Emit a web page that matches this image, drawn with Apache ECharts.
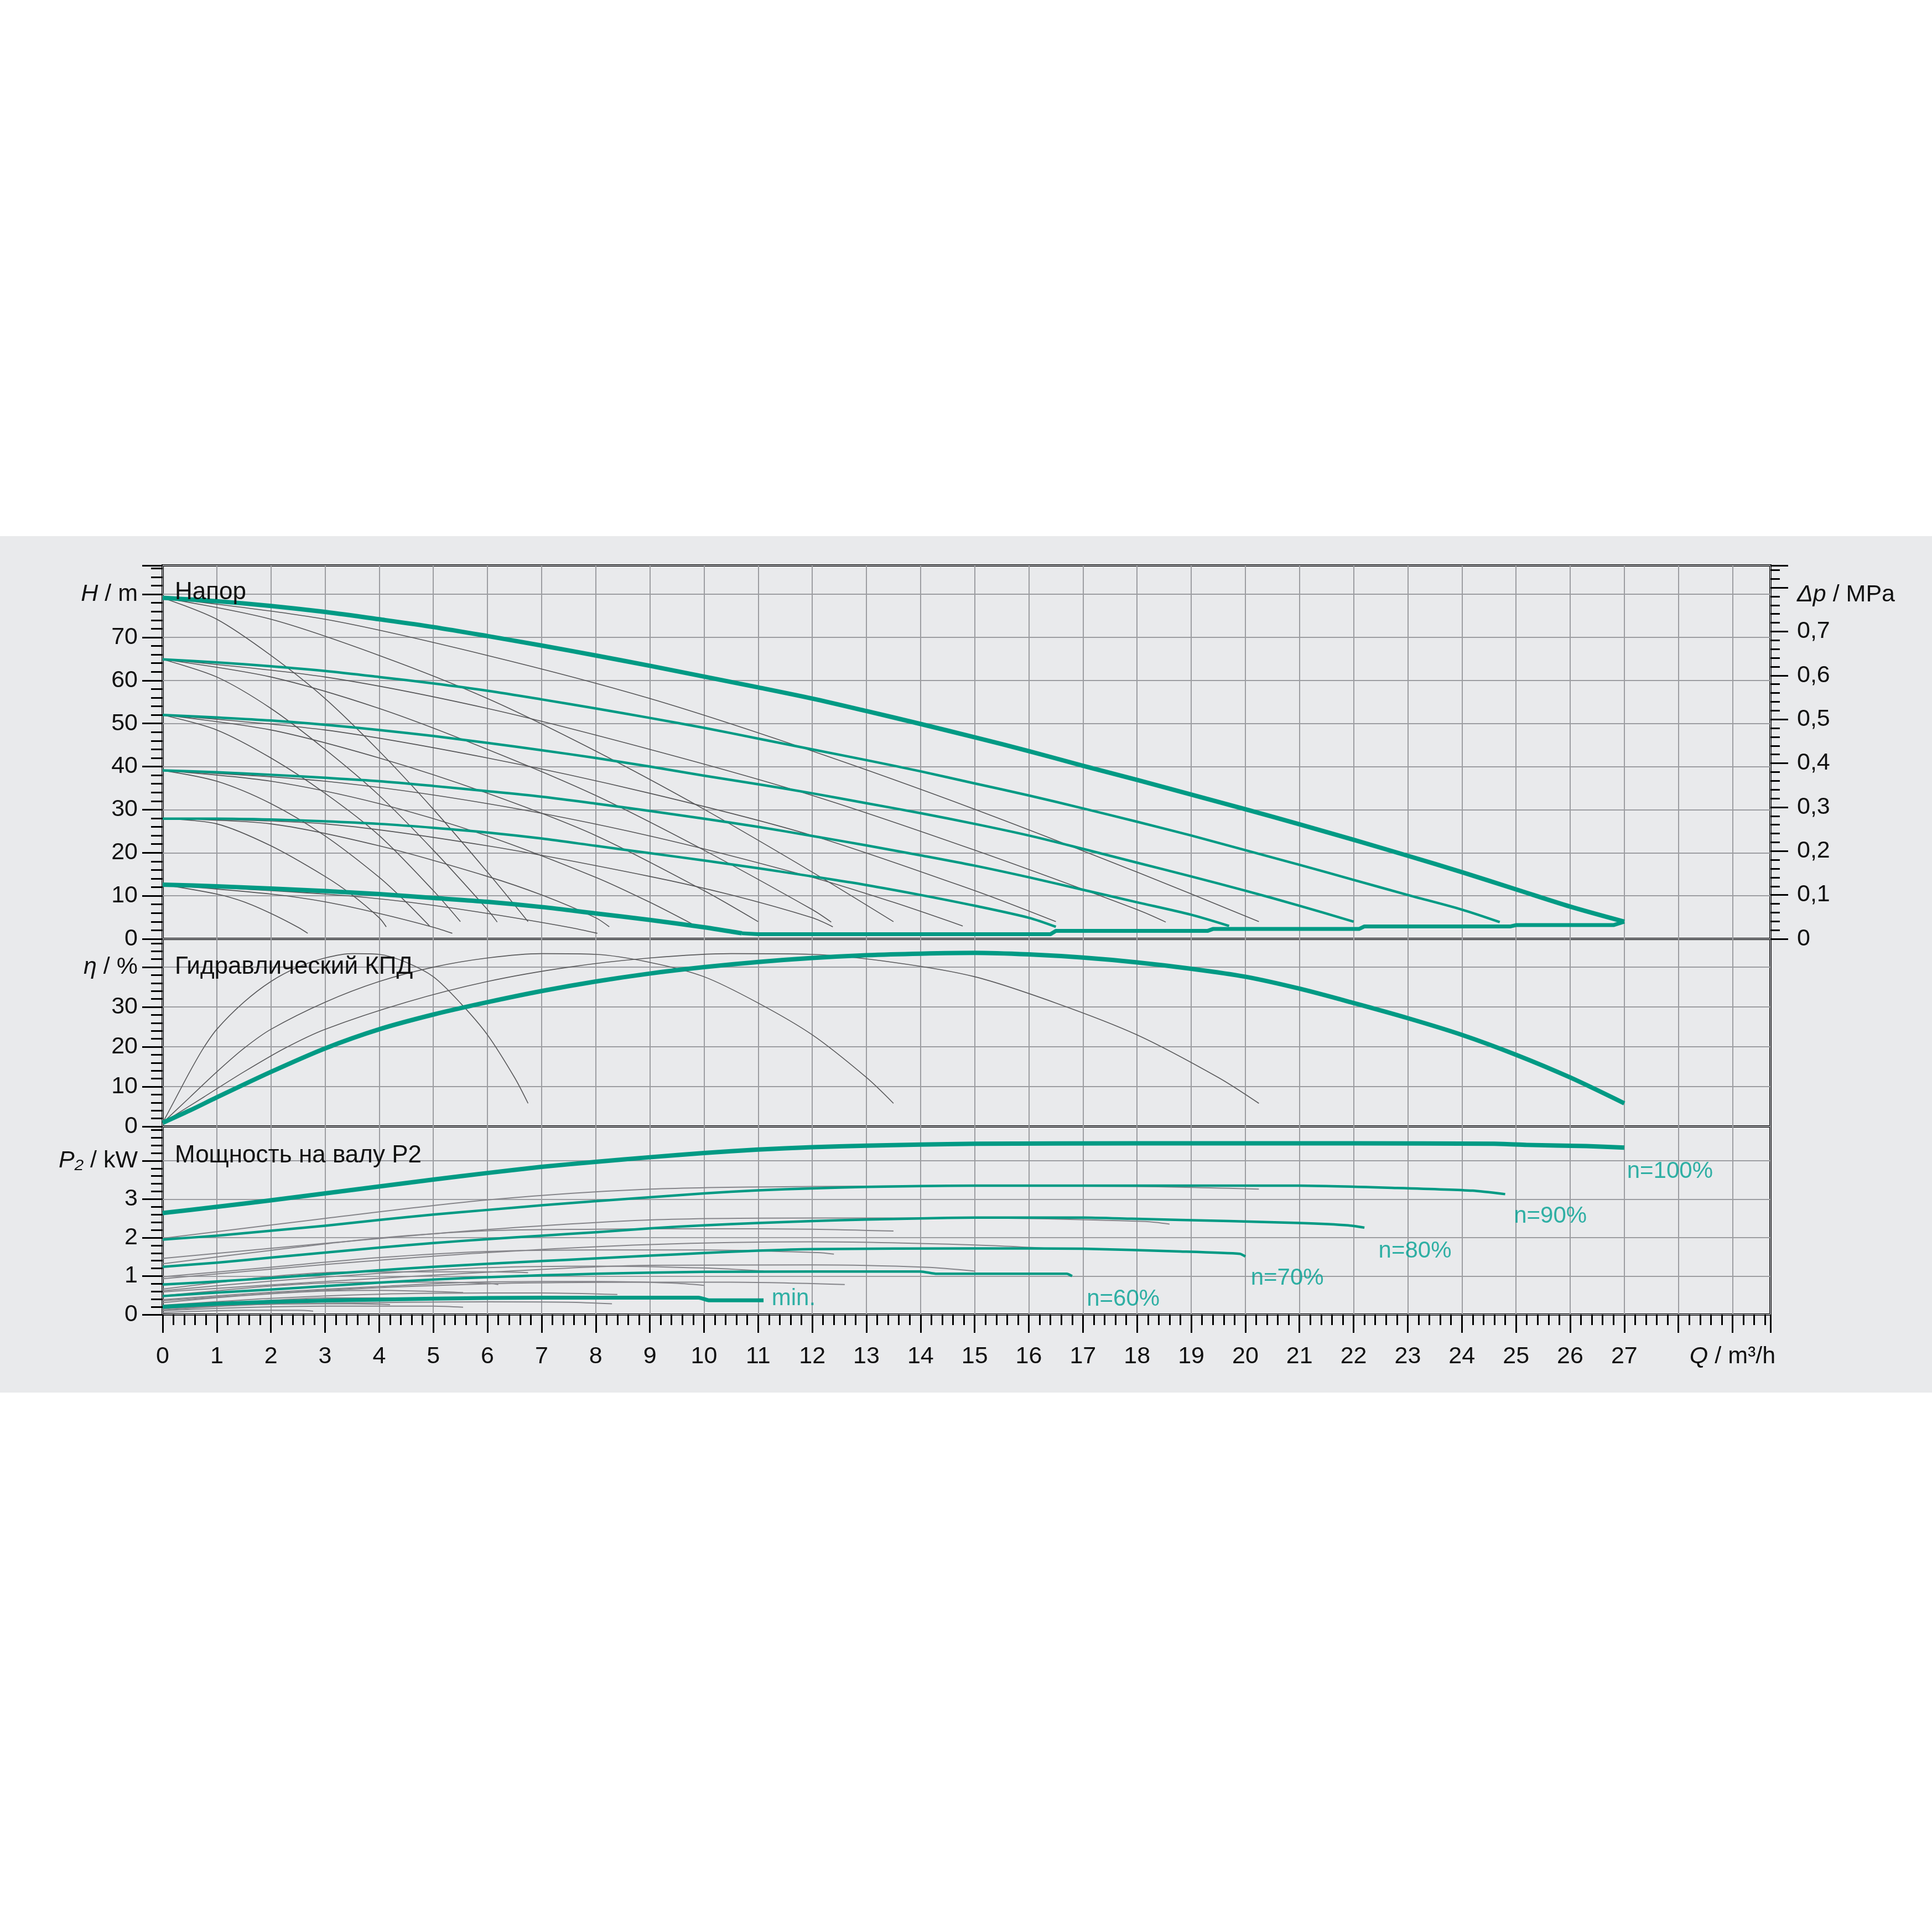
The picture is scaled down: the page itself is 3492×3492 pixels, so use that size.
<!DOCTYPE html>
<html><head><meta charset="utf-8">
<script src="https://cdn.jsdelivr.net/npm/echarts@6/dist/echarts.min.js"></script>
<style>html,body{margin:0;padding:0;background:#fff}#c{width:3492px;height:3492px}</style>
</head><body><div id="c"></div>
<script>
// ---------- DATA ----------
// Head H [m] vs Q [m3/h], 4 pumps (teal), per speed
const H_100 = [[0,79.2],[1,78.4],[2,77.3],[3,75.9],[4,74.2],[5,72.4],[6,70.3],[7,68.1],[8,65.8],[9,63.4],[10,60.9],[11,58.4],[12,55.8],[13,52.9],[14,49.9],[15,46.8],[16,43.6],[17,40.2],[18,36.9],[19,33.5],[20,30.1],[21,26.6],[22,23.0],[23,19.3],[24,15.5],[25,11.5],[26,7.5],[27,4.0]];
const H_90 = [[0,64.9],[1,64.2],[2,63.3],[3,62.2],[4,60.8],[5,59.3],[6,57.6],[7,55.6],[8,53.5],[9,51.3],[10,49.0],[11,46.5],[12,44.0],[13,41.5],[14,38.9],[15,36.1],[16,33.3],[17,30.3],[18,27.2],[19,24.0],[20,20.6],[21,17.2],[22,13.7],[23,10.2],[24,6.8],[24.7,3.9]];
const H_80 = [[0,52.0],[1,51.4],[2,50.7],[3,49.7],[4,48.5],[5,47.1],[6,45.5],[7,43.8],[8,42.0],[9,40.0],[10,37.9],[11,35.9],[12,33.8],[13,31.5],[14,29.2],[15,26.7],[16,24.0],[17,20.9],[18,17.7],[19,14.5],[20,11.2],[21,7.7],[22,4.0]];
const H_70 = [[0,39.1],[1,38.7],[2,38.1],[3,37.4],[4,36.6],[5,35.5],[6,34.3],[7,33.0],[8,31.4],[9,29.7],[10,27.9],[11,26.0],[12,23.9],[13,21.7],[14,19.4],[15,17.0],[16,14.3],[17,11.4],[18,8.5],[19,5.6],[19.7,3.0]];
const H_60 = [[0,27.9],[1,27.9],[2,27.7],[3,27.3],[4,26.7],[5,25.8],[6,24.7],[7,23.3],[8,21.6],[9,19.9],[10,18.2],[11,16.4],[12,14.5],[13,12.5],[14,10.2],[15,7.7],[16,4.9],[16.5,2.8]];
const H_MIN = [[0,12.6],[1,12.2],[2,11.7],[3,11.1],[4,10.4],[5,9.5],[6,8.6],[7,7.4],[8,5.9],[9,4.4],[10,2.7],[10.7,1.3]];
const H_LIMIT = [[10.7,1.3],[11,1.1],[16.4,1.1],[16.5,1.85],[19.3,1.85],[19.4,2.3],[22.1,2.3],[22.2,2.9],[24.9,2.9],[25,3.2],[26.8,3.2],[27,4.0]];

// Head, fewer pumps running (grey)
const GH_100_1 = [[0,79.2],[1,74.2],[2,65.8],[3,55.8],[4,43.6],[5,30.1],[6,15.5],[6.75,4.0]];
const GH_100_2 = [[0,79.2],[2,74.2],[4,65.8],[6,55.8],[8,43.6],[10,30.1],[12,15.5],[13.5,4.0]];
const GH_100_3 = [[0,79.2],[3,74.2],[6,65.8],[9,55.8],[12,43.6],[15,30.1],[18,15.5],[20.25,4.0]];
const GH_90_1 = [[0,64.9],[1,60.8],[2,53.5],[3,44.0],[4,33.3],[5,20.6],[6,6.8],[6.18,3.9]];
const GH_90_2 = [[0,64.9],[2,60.8],[4,53.5],[6,44.0],[8,33.3],[10,20.6],[12,6.8],[12.35,3.9]];
const GH_90_3 = [[0,64.9],[3,60.8],[6,53.5],[9,44.0],[12,33.3],[15,20.6],[18,6.8],[18.53,3.9]];
const GH_80_1 = [[0,52.0],[1,48.5],[2,42.0],[3,33.8],[4,24.0],[5,11.2],[5.5,4.0]];
const GH_80_2 = [[0,52.0],[2,48.5],[4,42.0],[6,33.8],[8,24.0],[10,11.2],[11,4.0]];
const GH_80_3 = [[0,52.0],[3,48.5],[6,42.0],[9,33.8],[12,24.0],[15,11.2],[16.5,4.0]];
const GH_70_1 = [[0,39.1],[1,36.6],[2,31.4],[3,23.9],[4,14.3],[4.5,8.5],[4.93,3.0]];
const GH_70_2 = [[0,39.1],[2,36.6],[4,31.4],[6,23.9],[8,14.3],[9,8.5],[9.85,3.0]];
const GH_70_3 = [[0,39.1],[3,36.6],[6,31.4],[9,23.9],[12,14.3],[13.5,8.5],[14.78,3.0]];
const GH_60_1 = [[0,27.9],[1,26.7],[2,21.6],[3,14.5],[3.5,10.2],[4,4.9],[4.13,2.8]];
const GH_60_2 = [[0,27.9],[2,26.7],[4,21.6],[6,14.5],[7,10.2],[8,4.9],[8.25,2.8]];
const GH_60_3 = [[0,27.9],[3,26.7],[6,21.6],[9,14.5],[10.5,10.2],[12,4.9],[12.38,2.8]];
const GH_MIN_1 = [[0,12.6],[1,10.4],[1.5,8.6],[2,5.9],[2.5,2.7],[2.68,1.3]];
const GH_MIN_2 = [[0,12.6],[2,10.4],[3,8.6],[4,5.9],[5,2.7],[5.35,1.3]];
const GH_MIN_3 = [[0,12.6],[3,10.4],[4.5,8.6],[6,5.9],[7.5,2.7],[8.03,1.3]];

// Hydraulic efficiency eta [%]
const ETA_4 = [[0,0.9],[0.5,4.0],[1,7.3],[2,13.7],[3,19.6],[4,24.4],[5,28.1],[6,31.2],[7,34.0],[8,36.4],[9,38.4],[10,40.0],[11,41.3],[12,42.3],[13,43.0],[14,43.4],[15,43.6],[16,43.2],[17,42.4],[18,41.2],[19,39.6],[20,37.6],[21,34.6],[22,31.0],[23,27.2],[24,23.0],[25,18.0],[26,12.3],[27,5.8]];
const ETA_1 = [[0,0.9],[0.25,7.3],[0.5,13.7],[0.75,19.6],[1,24.4],[1.5,31.2],[2,36.4],[2.5,40.0],[3,42.3],[3.5,43.4],[4,43.2],[4.5,41.2],[5,37.6],[5.5,31.0],[6,23.0],[6.5,12.3],[6.75,5.8]];
const ETA_2 = [[0,0.9],[0.5,7.3],[1,13.7],[1.5,19.6],[2,24.4],[3,31.2],[4,36.4],[5,40.0],[6,42.3],[7,43.4],[8,43.2],[9,41.2],[10,37.6],[11,31.0],[12,23.0],[13,12.3],[13.5,5.8]];
const ETA_3 = [[0,0.9],[0.75,7.3],[1.5,13.7],[2.25,19.6],[3,24.4],[4.5,31.2],[6,36.4],[7.5,40.0],[9,42.3],[10.5,43.4],[12,43.2],[13.5,41.2],[15,37.6],[16.5,31.0],[18,23.0],[19.5,12.3],[20.25,5.8]];

// Shaft power P2 [kW], 4 pumps (teal)
const P_100 = [[0,2.64],[1,2.8],[2,2.97],[3,3.15],[4,3.33],[5,3.51],[6,3.68],[7,3.84],[8,3.97],[9,4.09],[10,4.2],[11,4.29],[12,4.35],[13,4.39],[14,4.42],[15,4.44],[18,4.45],[22,4.45],[24.6,4.44],[25.2,4.41],[26.3,4.38],[27,4.34]];
const P_90 = [[0,1.95],[1,2.05],[2,2.18],[3,2.31],[4,2.46],[5,2.6],[6,2.72],[7,2.84],[8,2.95],[9,3.05],[10,3.15],[11,3.23],[12,3.28],[13,3.32],[14,3.34],[15,3.35],[21,3.35],[22.8,3.29],[24.2,3.22],[24.8,3.13]];
const P_80 = [[0,1.24],[1,1.35],[2,1.48],[3,1.61],[4,1.74],[5,1.86],[6,1.96],[7,2.05],[8,2.14],[9,2.24],[10,2.32],[11,2.38],[12,2.43],[13,2.47],[14,2.5],[15,2.52],[17,2.52],[17.9,2.49],[19.7,2.43],[21,2.38],[21.9,2.32],[22.2,2.26]];
const P_70 = [[0,0.78],[1,0.86],[2,0.95],[3,1.05],[4,1.15],[5,1.24],[6,1.32],[7,1.39],[8,1.46],[9,1.53],[10,1.6],[11,1.66],[12,1.7],[15,1.72],[17,1.71],[18.8,1.64],[19.9,1.58],[20,1.51]];
const P_60 = [[0,0.48],[1,0.57],[2,0.65],[3,0.74],[4,0.83],[5,0.91],[6,0.97],[7,1.02],[8,1.06],[9,1.09],[10,1.11],[14,1.12],[14.3,1.06],[16.7,1.06],[16.8,1.0]];
const P_MIN = [[0,0.2],[1,0.28],[2,0.33],[4,0.39],[6,0.43],[8,0.44],[9.9,0.44],[10.1,0.37],[11.1,0.37]];

// Shaft power, fewer pumps running (grey)
const GP_100_1 = [[0,0.66],[1,0.83],[2,0.99],[3,1.09],[4,1.11],[5,1.11],[6,1.11],[6.75,1.09]];
const GP_100_2 = [[0,1.32],[2,1.67],[4,1.99],[6,2.18],[8,2.22],[10,2.23],[12,2.22],[13.5,2.17]];
const GP_100_3 = [[0,1.98],[3,2.5],[6,2.98],[9,3.26],[12,3.33],[15,3.34],[18,3.33],[20.25,3.26]];
const GP_90_1 = [[0,0.49],[1,0.62],[2,0.74],[3,0.82],[4,0.84],[5,0.84],[6.05,0.81],[6.2,0.78]];
const GP_90_2 = [[0,0.98],[2,1.23],[4,1.48],[6,1.64],[8,1.68],[10,1.68],[12.1,1.61],[12.4,1.57]];
const GP_90_3 = [[0,1.46],[3,1.85],[6,2.21],[9,2.46],[12,2.51],[15,2.51],[18.15,2.42],[18.6,2.35]];
const GP_80_1 = [[0,0.31],[1,0.44],[2,0.54],[3,0.61],[4,0.63],[5,0.6],[5.55,0.57]];
const GP_80_2 = [[0,0.62],[2,0.87],[4,1.07],[6,1.22],[8,1.26],[10,1.21],[11.1,1.13]];
const GP_80_3 = [[0,0.93],[3,1.3],[6,1.61],[9,1.82],[12,1.89],[15,1.81],[16.65,1.7]];
const GP_70_1 = [[0,0.2],[1,0.29],[2,0.37],[3,0.43],[4,0.43],[4.7,0.41],[5,0.38]];
const GP_70_2 = [[0,0.39],[2,0.58],[4,0.73],[6,0.85],[8,0.86],[9.4,0.82],[10,0.76]];
const GP_70_3 = [[0,0.59],[3,0.86],[6,1.1],[9,1.28],[12,1.29],[14.1,1.23],[15,1.13]];
const GP_60_1 = [[0,0.12],[1,0.21],[2,0.27],[3,0.28],[3.5,0.28],[4.2,0.26]];
const GP_60_2 = [[0,0.24],[2,0.42],[4,0.53],[6,0.56],[7,0.56],[8.4,0.52]];
const GP_60_3 = [[0,0.36],[3,0.63],[6,0.8],[9,0.84],[10.5,0.84],[12.6,0.78]];
const GP_MIN_1 = [[0,0.05],[0.5,0.08],[1,0.1],[1.5,0.11],[2.5,0.11],[2.78,0.09]];
const GP_MIN_2 = [[0,0.1],[1,0.16],[2,0.2],[3,0.22],[5,0.22],[5.55,0.19]];
const GP_MIN_3 = [[0,0.15],[1.5,0.25],[3,0.29],[4.5,0.32],[6,0.33],[7.5,0.32],[8.3,0.28]];

// Speed labels in the power panel
const LABEL_Q = [27.05, 24.96, 22.46, 20.1, 17.07, 11.25];
const LABEL_P = [3.72, 2.55, 1.65, 0.95, 0.4, 0.41];
const LABEL_TXT = ['n=100%', 'n=90%', 'n=80%', 'n=70%', 'n=60%', 'min.'];

// Titles
const TITLES = ['Напор', 'Гидравлический КПД', 'Мощность на валу P2'];

// ---------- CHART ----------
const FONT = '"Liberation Sans", Arial, sans-serif';
const TEAL = '#009a84';
const TEAL_TXT = '#00a092';
const GRID_C = '#9c9da1';
const BG = '#e9eaec';
const L = 294, R = 3492 - 3200;
const PANELS = [{top:1022, h:675}, {top:1697, h:339}, {top:2036, h:340}];

const chart = echarts.init(document.getElementById('c'), null, {renderer:'canvas'});

function ln(data, y, color, width, z, smooth) {
  const xi = y === 0 || y === 1 ? 0 : (y === 2 ? 1 : 2);
  return {type:'line', data:data, xAxisIndex:xi, yAxisIndex:y, showSymbol:false, symbol:'none',
    smooth: smooth === undefined ? 0.3 : smooth, lineStyle:{color:color, width:width, cap:'butt', join:'round'},
    z:z, silent:true, animation:false};
}

const rich = {
  i:{fontStyle:'italic', fontSize:43, fontFamily:FONT, color:'#111'},
  d:{fontStyle:'italic', fontSize:43, fontFamily:FONT, color:'#111', padding:[26,0,0,0]},
  dr:{fontSize:43, fontFamily:FONT, color:'#111', padding:[26,0,0,0]}
};
const tickStyle = {color:'#000', width:3};

const grids = PANELS.map(p => ({left:L, right:R, top:p.top, height:p.h, show:true,
  backgroundColor:'transparent', borderColor:'#000', borderWidth:4, containLabel:false}));

const xAxes = [0,1,2].map(i => ({
  type:'value', gridIndex:i, min:0, max:29.7, interval:1,
  axisLine:{show:false},
  axisTick:{show:i===2, length:33, lineStyle:tickStyle},
  minorTick:{show:i===2, splitNumber:5, length:19, lineStyle:tickStyle},
  axisLabel:{show:i===2, fontSize:43, fontFamily:FONT, color:'#111', margin:55, rich:rich,
    formatter: v => v === 29 ? '{i|Q} / m³/h' : ((v === 28 || Math.abs(v - Math.round(v)) > 1e-6) ? '' : String(Math.round(v)))},
  splitLine:{show:true, lineStyle:{color:GRID_C, width:2}},
  minorSplitLine:{show:false}
}));

function yAx(grid, max, interval, top, unitLabel) {
  return {
    type:'value', gridIndex:grid, min:0, max:max, interval:interval, position:'left',
    axisLine:{show:false},
    axisTick:{show:true, length:37, lineStyle:tickStyle},
    minorTick:{show:true, splitNumber:5, length:21, lineStyle:tickStyle},
    axisLabel:{fontSize:43, fontFamily:FONT, color:'#111', margin:45, rich:rich,
      formatter: v => {
        const r = Math.round(v / interval) * interval;
        if (Math.abs(v - r) > 1e-6) return '';
        if (Math.abs(r - top) < 1e-6) return unitLabel;
        return r < top ? String(Math.round(r)) : '';
      }},
    splitLine:{show:true, lineStyle:{color:GRID_C, width:2}}
  };
}

const yAxes = [
  yAx(0, 86.7, 10, 80, '{i|H} / m'),
  {
    type:'value', gridIndex:0, min:0, max:0.8505, interval:0.1, position:'right',
    axisLine:{show:false},
    axisTick:{show:true, length:32, lineStyle:tickStyle},
    minorTick:{show:true, splitNumber:5, length:17, lineStyle:tickStyle},
    axisLabel:{fontSize:43, fontFamily:FONT, color:'#111', margin:48, rich:rich,
      formatter: v => {
        const k = Math.round(v * 10);
        if (Math.abs(v * 10 - k) > 1e-6) return '';
        if (k === 8) return '{d|Δp}{dr| / MPa}';
        if (k > 8) return '';
        return k === 0 ? '0' : '0,' + k;
      }},
    splitLine:{show:false}
  },
  yAx(1, 47.1, 10, 40, '{i|η} / %'),
  yAx(2, 4.89, 1, 4, '{i|P₂} / kW')
];

const series = [];
[GH_100_1,GH_100_2,GH_100_3,GH_90_1,GH_90_2,GH_90_3,GH_80_1,GH_80_2,GH_80_3,
 GH_70_1,GH_70_2,GH_70_3,GH_60_1,GH_60_2,GH_60_3,GH_MIN_1,GH_MIN_2,GH_MIN_3]
  .forEach(d => series.push(ln(d, 0, '#545456', 1.6, 2)));
series.push(ln(H_90, 0, TEAL, 4.5, 5, 0.3));
series.push(ln(H_80, 0, TEAL, 4.5, 5, 0.3));
series.push(ln(H_70, 0, TEAL, 4.5, 5, 0.3));
series.push(ln(H_60, 0, TEAL, 4.5, 5, 0.3));
series.push(ln(H_LIMIT, 0, TEAL, 7, 5, false));
series.push(ln(H_MIN, 0, TEAL, 8, 6, 0.3));
series.push(ln(H_100, 0, TEAL, 8, 6, 0.3));
[ETA_1, ETA_2, ETA_3].forEach(d => series.push(ln(d, 2, '#5a5a5c', 1.6, 2)));
series.push(ln(ETA_4, 2, TEAL, 8, 6, 0.3));
[GP_100_1,GP_100_2,GP_100_3,GP_90_1,GP_90_2,GP_90_3,GP_80_1,GP_80_2,GP_80_3,
 GP_70_1,GP_70_2,GP_70_3,GP_60_1,GP_60_2,GP_60_3,GP_MIN_1,GP_MIN_2,GP_MIN_3]
  .forEach(d => series.push(ln(d, 3, '#85858a', 2, 2)));
series.push(ln(P_90, 3, TEAL, 4.5, 5, 0.2));
series.push(ln(P_80, 3, TEAL, 4.5, 5, 0.2));
series.push(ln(P_70, 3, TEAL, 4.5, 5, 0.2));
series.push(ln(P_60, 3, TEAL, 4.5, 5, 0.2));
series.push(ln(P_MIN, 3, TEAL, 7, 6, 0.2));
series.push(ln(P_100, 3, TEAL, 8, 6, 0.2));
series.push({
  type:'scatter', xAxisIndex:2, yAxisIndex:3, symbolSize:0, silent:true, animation:false, z:10,
  data: LABEL_Q.map((q, i) => [q, LABEL_P[i], LABEL_TXT[i]]),
  label:{show:true, position:'right', distance:0, fontSize:42, fontFamily:FONT, color:TEAL_TXT,
    formatter: p => p.data[2]}
});

const graphic = [
  {type:'rect', shape:{x:0, y:969, width:3492, height:1548}, style:{fill:BG}, z:-100, silent:true}
];
const titleY = [1071, 1748, 2089];
TITLES.forEach((t, i) => graphic.push({type:'text', x:316, y:titleY[i], z:100, silent:true,
  style:{text:t, fill:'#111', font:'44px ' + FONT, verticalAlign:'middle', align:'left'}}));

chart.setOption({
  backgroundColor:'#ffffff',
  animation:false,
  grid:grids,
  xAxis:xAxes,
  yAxis:yAxes,
  series:series,
  graphic:graphic
});
</script>
</body></html>
